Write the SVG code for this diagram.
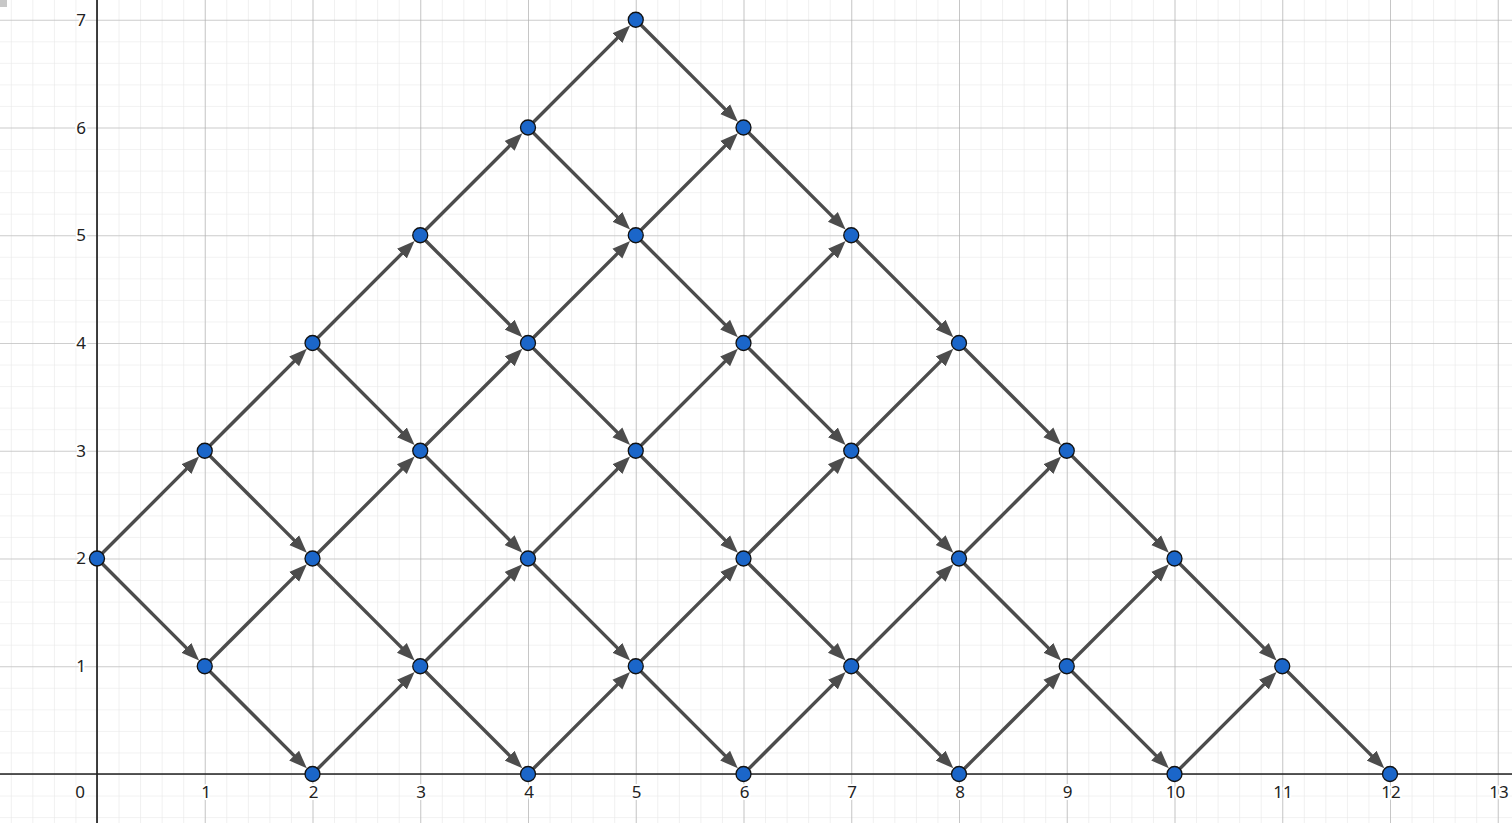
<svg xmlns="http://www.w3.org/2000/svg" width="1512" height="823" viewBox="0 0 1512 823">
<style>
.lbl{font-family:"Noto Sans","DejaVu Sans",sans-serif;font-size:17px;fill:#222;stroke:#fff;stroke-width:4;paint-order:stroke;stroke-linejoin:round}
.xl{text-anchor:middle}
.yl{text-anchor:end}
.node circle{fill:#1b66c9;stroke:#111;stroke-width:1.3}
.edges line{stroke:#4c4c4c;stroke-width:0.0315;marker-end:url(#ah)}
</style>
<defs>
<pattern id="minor" patternUnits="userSpaceOnUse" x="97" y="774" width="21.55" height="21.55">
<path d="M0,0 V21.55 M0,0 H21.55" fill="none" stroke="#e6e6e6" stroke-width="1.2"/>
</pattern>
<pattern id="major" patternUnits="userSpaceOnUse" x="97" y="774" width="107.75" height="107.75">
<path d="M0,0 V107.75 M0,0 H107.75" fill="none" stroke="#aaaaaa" stroke-width="1.2"/>
</pattern>
<marker id="ah" markerUnits="userSpaceOnUse" viewBox="0 0 18 16" markerWidth="0.167" markerHeight="0.1485" refX="1" refY="8" orient="auto">
<path d="M0,1 L18,8 L0,15 z" fill="#4c4c4c"/>
</marker>
</defs>
<rect width="1512" height="823" fill="#fff"/>
<rect width="1512" height="823" fill="url(#minor)"/>
<rect width="1512" height="823" fill="url(#major)"/>
<rect x="0" y="0" width="7" height="7" fill="#c8c8c8"/>
<g id="axes" stroke="#222" stroke-width="1.7">
<line x1="0" y1="774" x2="1512" y2="774"/>
<line x1="97" y1="0" x2="97" y2="823"/>
</g>
<g id="axis-labels" class="lbl">
<text class="xl" x="80" y="798">0</text>
<text class="xl" x="206" y="798">1</text>
<text class="xl" x="313.5" y="798">2</text>
<text class="xl" x="421" y="798">3</text>
<text class="xl" x="529" y="798">4</text>
<text class="xl" x="636.5" y="798">5</text>
<text class="xl" x="744.5" y="798">6</text>
<text class="xl" x="852" y="798">7</text>
<text class="xl" x="960" y="798">8</text>
<text class="xl" x="1067.5" y="798">9</text>
<text class="xl" x="1175.5" y="798">10</text>
<text class="xl" x="1283" y="798">11</text>
<text class="xl" x="1391" y="798">12</text>
<text class="xl" x="1499" y="798">13</text>
<text class="yl" x="86" y="672">1</text>
<text class="yl" x="86" y="564">2</text>
<text class="yl" x="86" y="456.5">3</text>
<text class="yl" x="86" y="349">4</text>
<text class="yl" x="86" y="241">5</text>
<text class="yl" x="86" y="133.5">6</text>
<text class="yl" x="86" y="26">7</text>
</g>
<g id="connectors" class="edges" transform="matrix(107.75 0 0 -107.75 97 774)">
<line x1="0" y1="2" x2="0.836" y2="2.836"/>
<line x1="0" y1="2" x2="0.836" y2="1.164"/>
<line x1="1" y1="1" x2="1.836" y2="1.836"/>
<line x1="1" y1="1" x2="1.836" y2="0.164"/>
<line x1="1" y1="3" x2="1.836" y2="3.836"/>
<line x1="1" y1="3" x2="1.836" y2="2.164"/>
<line x1="2" y1="0" x2="2.836" y2="0.836"/>
<line x1="2" y1="2" x2="2.836" y2="2.836"/>
<line x1="2" y1="2" x2="2.836" y2="1.164"/>
<line x1="2" y1="4" x2="2.836" y2="4.836"/>
<line x1="2" y1="4" x2="2.836" y2="3.164"/>
<line x1="3" y1="1" x2="3.836" y2="1.836"/>
<line x1="3" y1="1" x2="3.836" y2="0.164"/>
<line x1="3" y1="3" x2="3.836" y2="3.836"/>
<line x1="3" y1="3" x2="3.836" y2="2.164"/>
<line x1="3" y1="5" x2="3.836" y2="5.836"/>
<line x1="3" y1="5" x2="3.836" y2="4.164"/>
<line x1="4" y1="0" x2="4.836" y2="0.836"/>
<line x1="4" y1="2" x2="4.836" y2="2.836"/>
<line x1="4" y1="2" x2="4.836" y2="1.164"/>
<line x1="4" y1="4" x2="4.836" y2="4.836"/>
<line x1="4" y1="4" x2="4.836" y2="3.164"/>
<line x1="4" y1="6" x2="4.836" y2="6.836"/>
<line x1="4" y1="6" x2="4.836" y2="5.164"/>
<line x1="5" y1="1" x2="5.836" y2="1.836"/>
<line x1="5" y1="1" x2="5.836" y2="0.164"/>
<line x1="5" y1="3" x2="5.836" y2="3.836"/>
<line x1="5" y1="3" x2="5.836" y2="2.164"/>
<line x1="5" y1="5" x2="5.836" y2="5.836"/>
<line x1="5" y1="5" x2="5.836" y2="4.164"/>
<line x1="5" y1="7" x2="5.836" y2="6.164"/>
<line x1="6" y1="0" x2="6.836" y2="0.836"/>
<line x1="6" y1="2" x2="6.836" y2="2.836"/>
<line x1="6" y1="2" x2="6.836" y2="1.164"/>
<line x1="6" y1="4" x2="6.836" y2="4.836"/>
<line x1="6" y1="4" x2="6.836" y2="3.164"/>
<line x1="6" y1="6" x2="6.836" y2="5.164"/>
<line x1="7" y1="1" x2="7.836" y2="1.836"/>
<line x1="7" y1="1" x2="7.836" y2="0.164"/>
<line x1="7" y1="3" x2="7.836" y2="3.836"/>
<line x1="7" y1="3" x2="7.836" y2="2.164"/>
<line x1="7" y1="5" x2="7.836" y2="4.164"/>
<line x1="8" y1="0" x2="8.836" y2="0.836"/>
<line x1="8" y1="2" x2="8.836" y2="2.836"/>
<line x1="8" y1="2" x2="8.836" y2="1.164"/>
<line x1="8" y1="4" x2="8.836" y2="3.164"/>
<line x1="9" y1="1" x2="9.836" y2="1.836"/>
<line x1="9" y1="1" x2="9.836" y2="0.164"/>
<line x1="9" y1="3" x2="9.836" y2="2.164"/>
<line x1="10" y1="0" x2="10.836" y2="0.836"/>
<line x1="10" y1="2" x2="10.836" y2="1.164"/>
<line x1="11" y1="1" x2="11.836" y2="0.164"/>
</g>
<g id="nodes">
<g id="n-0-2" class="node"><circle cx="97" cy="558.5" r="7.5"/></g>
<g id="n-1-1" class="node"><circle cx="204.75" cy="666.25" r="7.5"/></g>
<g id="n-1-3" class="node"><circle cx="204.75" cy="450.75" r="7.5"/></g>
<g id="n-2-0" class="node"><circle cx="312.5" cy="774" r="7.5"/></g>
<g id="n-2-2" class="node"><circle cx="312.5" cy="558.5" r="7.5"/></g>
<g id="n-2-4" class="node"><circle cx="312.5" cy="343" r="7.5"/></g>
<g id="n-3-1" class="node"><circle cx="420.25" cy="666.25" r="7.5"/></g>
<g id="n-3-3" class="node"><circle cx="420.25" cy="450.75" r="7.5"/></g>
<g id="n-3-5" class="node"><circle cx="420.25" cy="235.25" r="7.5"/></g>
<g id="n-4-0" class="node"><circle cx="528" cy="774" r="7.5"/></g>
<g id="n-4-2" class="node"><circle cx="528" cy="558.5" r="7.5"/></g>
<g id="n-4-4" class="node"><circle cx="528" cy="343" r="7.5"/></g>
<g id="n-4-6" class="node"><circle cx="528" cy="127.5" r="7.5"/></g>
<g id="n-5-1" class="node"><circle cx="635.75" cy="666.25" r="7.5"/></g>
<g id="n-5-3" class="node"><circle cx="635.75" cy="450.75" r="7.5"/></g>
<g id="n-5-5" class="node"><circle cx="635.75" cy="235.25" r="7.5"/></g>
<g id="n-5-7" class="node"><circle cx="635.75" cy="19.75" r="7.5"/></g>
<g id="n-6-0" class="node"><circle cx="743.5" cy="774" r="7.5"/></g>
<g id="n-6-2" class="node"><circle cx="743.5" cy="558.5" r="7.5"/></g>
<g id="n-6-4" class="node"><circle cx="743.5" cy="343" r="7.5"/></g>
<g id="n-6-6" class="node"><circle cx="743.5" cy="127.5" r="7.5"/></g>
<g id="n-7-1" class="node"><circle cx="851.25" cy="666.25" r="7.5"/></g>
<g id="n-7-3" class="node"><circle cx="851.25" cy="450.75" r="7.5"/></g>
<g id="n-7-5" class="node"><circle cx="851.25" cy="235.25" r="7.5"/></g>
<g id="n-8-0" class="node"><circle cx="959" cy="774" r="7.5"/></g>
<g id="n-8-2" class="node"><circle cx="959" cy="558.5" r="7.5"/></g>
<g id="n-8-4" class="node"><circle cx="959" cy="343" r="7.5"/></g>
<g id="n-9-1" class="node"><circle cx="1066.75" cy="666.25" r="7.5"/></g>
<g id="n-9-3" class="node"><circle cx="1066.75" cy="450.75" r="7.5"/></g>
<g id="n-10-0" class="node"><circle cx="1174.5" cy="774" r="7.5"/></g>
<g id="n-10-2" class="node"><circle cx="1174.5" cy="558.5" r="7.5"/></g>
<g id="n-11-1" class="node"><circle cx="1282.25" cy="666.25" r="7.5"/></g>
<g id="n-12-0" class="node"><circle cx="1390" cy="774" r="7.5"/></g>
</g>
</svg>
